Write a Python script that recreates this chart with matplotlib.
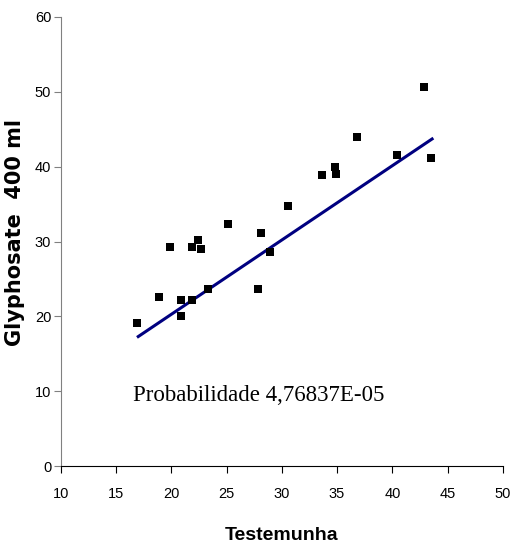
import matplotlib
matplotlib.use("Agg")
import matplotlib.pyplot as plt

testemunha = [16.9, 18.9, 19.9, 20.9, 20.9, 21.9, 21.9, 22.4, 22.7, 23.3, 25.1, 27.8, 28.1, 28.9,
              30.6, 33.6, 34.8, 34.9, 36.8, 40.4, 42.9, 43.5]
glyphosate = [19.1, 22.6, 29.2, 22.2, 20.1, 22.2, 29.2, 30.2, 29.0, 23.7, 32.3, 23.7, 31.1, 28.6,
              34.7, 38.9, 40.0, 39.0, 44.0, 41.6, 50.6, 41.2]
trend_x = [17.0, 43.6]
trend_y = [17.3, 43.7]
x_ticks = [10, 15, 20, 25, 30, 35, 40, 45, 50]
y_ticks = [0, 10, 20, 30, 40, 50, 60]
annotation = "Probabilidade 4,76837E-05"

fig = plt.figure(figsize=(5.12, 5.47), dpi=100)
ax = fig.add_axes([0.119, 0.148, 0.863, 0.821])

ax.scatter(testemunha, glyphosate, marker="s", s=30, color="black", zorder=3, linewidths=0)
ax.plot(trend_x, trend_y, color="#000080", lw=2.2, zorder=2)

ax.set_xlim(10, 50)
ax.set_ylim(0, 60)
ax.set_xticks(x_ticks)
ax.set_yticks(y_ticks)
for s in ["top", "right"]:
    ax.spines[s].set_visible(False)
ax.spines["left"].set_color("#808080")
ax.spines["bottom"].set_color("black")
ax.tick_params(axis="y", direction="out", length=5, color="#808080", labelsize=10.5, pad=2)
ax.tick_params(axis="x", direction="out", length=5, color="black", labelsize=10.5, pad=10)
for lab in ax.get_xticklabels() + ax.get_yticklabels():
    lab.set_family("Liberation Sans")

ax.set_xlabel("Testemunha", fontsize=14, fontweight="bold", family="Liberation Sans", labelpad=19)
ax.set_ylabel("Glyphosate  400 ml", fontsize=15, fontweight="bold", family="DejaVu Sans")
ax.yaxis.set_label_coords(-0.082, 0.519)

ax.text(0.163, 0.158, annotation, transform=ax.transAxes, fontsize=16.5,
        family="Liberation Serif", va="center", ha="left")

fig.savefig("out.png", dpi=100)
